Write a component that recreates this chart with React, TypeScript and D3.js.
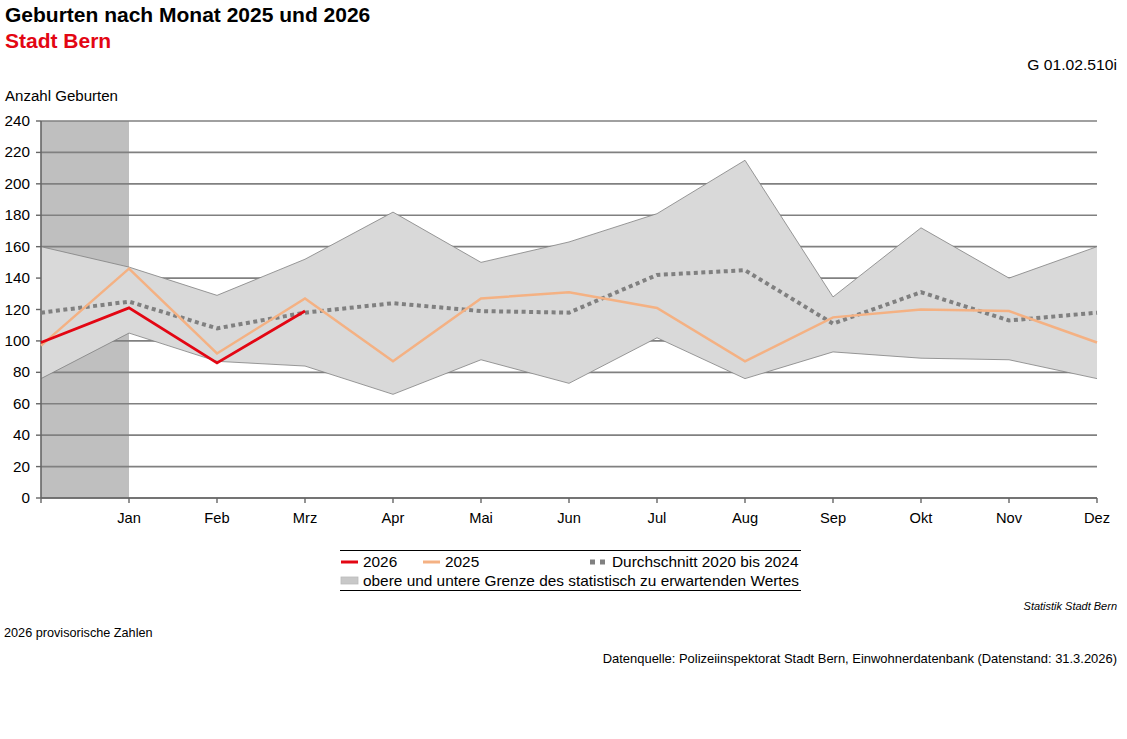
import * as d3 from "d3";

const monthLabels = ["", "Jan", "Feb", "Mrz", "Apr", "Mai", "Jun", "Jul", "Aug", "Sep", "Okt", "Nov", "Dez"];
const upperBound = [160, 147, 129, 152, 182, 150, 163, 181, 215, 128, 172, 140, 160];
const lowerBound = [76, 105, 87, 84, 66, 88, 73, 102, 76, 93, 89, 88, 76];
const average2020to2024 = [118, 125, 108, 118, 124, 119, 118, 142, 145, 111, 131, 113, 118];
const births2025 = [97, 146, 92, 127, 87, 127, 131, 121, 87, 115, 120, 119, 99];
const births2026 = [99, 121, 86, 119];
const yTicks = [0, 20, 40, 60, 80, 100, 120, 140, 160, 180, 200, 220, 240];

const W = 1127;
const H = 739;
const FONT = "'Liberation Sans', Arial, sans-serif";

const RED = "#e30613";
const ORANGE = "#f4b183";
const GREY = "#808080";

type TProps = {
  x: number;
  y: number;
  size: number;
  sx?: number;
  anchor?: "start" | "middle" | "end";
  fill?: string;
  bold?: boolean;
  italic?: boolean;
  children: React.ReactNode;
};

// the original's text renders a bit wider than Liberation Sans, so stretch horizontally
function T({ x, y, size, sx = 1, anchor = "start", fill = "#000", bold, italic, children }: TProps) {
  return (
    <text
      transform={`translate(${x},${y}) scale(${sx},1)`}
      fontSize={size}
      textAnchor={anchor}
      fill={fill}
      fontWeight={bold ? "bold" : "normal"}
      fontStyle={italic ? "italic" : "normal"}
    >
      {children}
    </text>
  );
}

export default function App() {
  const x = d3.scaleLinear().domain([0, 12]).range([41, 1097]);
  const y = d3.scaleLinear().domain([0, 240]).range([498, 121]);

  const band = d3
    .area<number>()
    .x((_, i) => x(i))
    .y0((_, i) => y(lowerBound[i]))
    .y1((d) => y(d));
  const line = d3
    .line<number>()
    .x((_, i) => x(i))
    .y((d) => y(d));

  return (
    <svg
      width={W}
      height={H}
      style={{ position: "absolute", left: 0, top: 0, background: "#fff" }}
      fontFamily={FONT}
    >
      {/* titles */}
      <T x={5} y={22} size={21} bold>Geburten nach Monat 2025 und 2026</T>
      <T x={5} y={48} size={21} bold fill={RED}>Stadt Bern</T>
      <T x={1117} y={70} size={14} sx={1.12} anchor="end">G 01.02.510i</T>
      <T x={5} y={101} size={14} sx={1.076}>Anzahl Geburten</T>

      {/* previous-year december area */}
      <rect x={x(0)} y={y(240)} width={x(1) - x(0)} height={y(0) - y(240)} fill="#bfbfbf" />

      {/* gridlines */}
      {yTicks.map((t) => (
        <line key={t} x1={x(0)} x2={x(12)} y1={y(t)} y2={y(t)} stroke={GREY} strokeWidth={1.6} />
      ))}

      {/* expected range band */}
      <path d={band(upperBound) as string} fill="#d9d9d9" />
      <path d={line(upperBound) as string} fill="none" stroke={GREY} strokeWidth={0.8} />
      <path d={line(lowerBound) as string} fill="none" stroke={GREY} strokeWidth={0.8} />

      {/* y axis */}
      <line x1={x(0)} x2={x(0)} y1={y(240)} y2={y(0)} stroke="#666" strokeWidth={1.6} />
      {yTicks.map((t) => (
        <g key={t}>
          <line x1={x(0) - 5} x2={x(0)} y1={y(t)} y2={y(t)} stroke="#666" strokeWidth={1.4} />
          <T x={30} y={y(t) + 5} size={14} sx={1.09} anchor="end">{t}</T>
        </g>
      ))}

      {/* x axis */}
      <line x1={x(0)} x2={x(12)} y1={y(0)} y2={y(0)} stroke="#666" strokeWidth={1.6} />
      {monthLabels.map((m, i) => (
        <g key={i}>
          <line x1={x(i)} x2={x(i)} y1={y(0)} y2={y(0) + 5} stroke="#666" strokeWidth={1.4} />
          <T x={x(i)} y={523} size={14} sx={1.05} anchor="middle">{m}</T>
        </g>
      ))}

      {/* series */}
      <path
        d={line(average2020to2024) as string}
        fill="none"
        stroke={GREY}
        strokeWidth={4}
        strokeDasharray="4 3.5"
      />
      <path d={line(births2025) as string} fill="none" stroke={ORANGE} strokeWidth={2.5} />
      <path d={line(births2026) as string} fill="none" stroke={RED} strokeWidth={2.8} />

      {/* legend */}
      <line x1={340} x2={801} y1={550.5} y2={550.5} stroke="#000" strokeWidth={1} />
      <line x1={340} x2={801} y1={590.5} y2={590.5} stroke="#000" strokeWidth={1} />
      <line x1={341} x2={358} y1={562} y2={562} stroke={RED} strokeWidth={3} />
      <T x={363} y={567} size={14} sx={1.1}>2026</T>
      <line x1={423} x2={440} y1={562} y2={562} stroke={ORANGE} strokeWidth={3} />
      <T x={445} y={567} size={14} sx={1.1}>2025</T>
      <line x1={590} x2={605} y1={562} y2={562} stroke={GREY} strokeWidth={5} strokeDasharray="5 5" />
      <T x={612} y={567} size={14} sx={1.1}>Durchschnitt 2020 bis 2024</T>
      <rect x={341} y={577} width={17} height={7} fill="#c8c8c8" stroke="#bbb" strokeWidth={0.8} />
      <T x={363} y={586} size={14} sx={1.1}>
        obere und untere Grenze des statistisch zu erwartenden Wertes
      </T>

      {/* footer */}
      <T x={1117} y={610} size={10} sx={1.1} italic anchor="end">Statistik Stadt Bern</T>
      <T x={4} y={637} size={12} sx={1.057}>2026 provisorische Zahlen</T>
      <T x={1117} y={663} size={12} sx={1.08} anchor="end">
        Datenquelle: Polizeiinspektorat Stadt Bern, Einwohnerdatenbank (Datenstand: 31.3.2026)
      </T>
    </svg>
  );
}
